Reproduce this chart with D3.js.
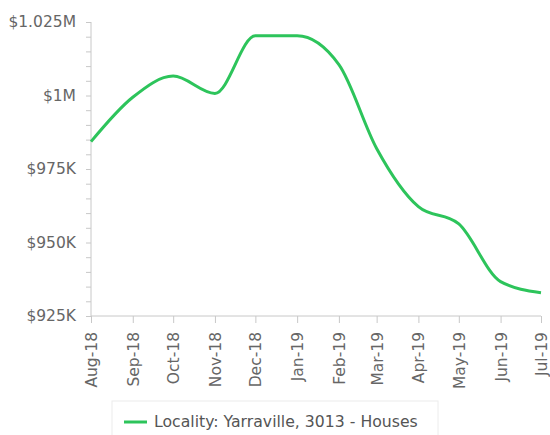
<!DOCTYPE html>
<html><head><meta charset="utf-8">
<script src="https://cdn.jsdelivr.net/npm/d3@7"></script>
<style>
body{margin:0;background:#fff;}
svg{display:block;font-family:"DejaVu Sans",sans-serif;}
</style></head>
<body><svg id="c" width="550" height="435"></svg>
<script>
const months = ["2018-08","2018-09","2018-10","2018-11","2018-12","2019-01","2019-02","2019-03","2019-04","2019-05","2019-06","2019-07"];
const monthLabels = ["Aug-18","Sep-18","Oct-18","Nov-18","Dec-18","Jan-19","Feb-19","Mar-19","Apr-19","May-19","Jun-19","Jul-19"];
const values = [984300, 999400, 1006600, 1000700, 1020300, 1020300, 1010500, 982000, 962200, 956300, 936700, 932900];
const yTicks = [925000, 950000, 975000, 1000000, 1025000];
const yTickLabels = ["$925K","$950K","$975K","$1M","$1.025M"];
const seriesName = "Locality: Yarraville, 3013 - Houses";

const parse = d3.timeParse("%Y-%m");
const dates = months.map(parse);
const svg = d3.select("#c");
const x = d3.scaleTime().domain([dates[0], dates[dates.length-1]]).range([91, 541]);
const y = d3.scaleLinear().domain([925000, 1025000]).range([316, 22]);
const axisColor = "#c8c8c8", textColor = "#666";

// Y axis with minor ticks every 5K
const yAxis = d3.axisLeft(y).tickValues(d3.range(925000, 1025001, 5000)).tickSize(5)
  .tickFormat(d => { const i = yTicks.indexOf(d); return i >= 0 ? yTickLabels[i] : ""; });
const gy = svg.append("g").attr("transform", "translate(91,0)").call(yAxis);
gy.select(".domain").attr("stroke", axisColor).attr("d", "M0,22V316");
gy.selectAll(".tick line").attr("stroke", axisColor);
gy.selectAll(".tick text").attr("fill", textColor).attr("font-size", 15.5).attr("x", -15)
  .attr("font-family", "DejaVu Sans");

// X axis
const xAxis = d3.axisBottom(x).tickValues(dates).tickSize(7)
  .tickFormat((d, i) => monthLabels[i]);
const gx = svg.append("g").attr("transform", "translate(0,316)").call(xAxis);
gx.select(".domain").attr("stroke", axisColor).attr("d", "M91,0H541");
gx.selectAll(".tick line").attr("stroke", axisColor);
gx.selectAll(".tick text").attr("fill", textColor).attr("font-size", 15.5)
  .attr("font-family", "DejaVu Sans")
  .attr("transform", "rotate(-90)").attr("text-anchor", "end")
  .attr("x", -16).attr("y", 0).attr("dy", "0.35em");

// Line
const line = d3.line().x((d, i) => x(dates[i])).y(d => y(d)).curve(d3.curveMonotoneX);
svg.append("path").datum(values).attr("d", line).attr("fill", "none")
  .attr("stroke", "#2dc45b").attr("stroke-width", 3).attr("stroke-linejoin", "round");

// Legend
const lg = svg.append("g");
lg.append("rect").attr("x", 112).attr("y", 401).attr("width", 326).attr("height", 50)
  .attr("fill", "#fff").attr("stroke", "#ececec");
lg.append("line").attr("x1", 124).attr("x2", 147).attr("y1", 422).attr("y2", 422)
  .attr("stroke", "#2dc45b").attr("stroke-width", 3);
lg.append("text").attr("x", 154).attr("y", 427).attr("font-size", 15.7).attr("fill", "#555")
  .text(seriesName);
</script></body></html>
